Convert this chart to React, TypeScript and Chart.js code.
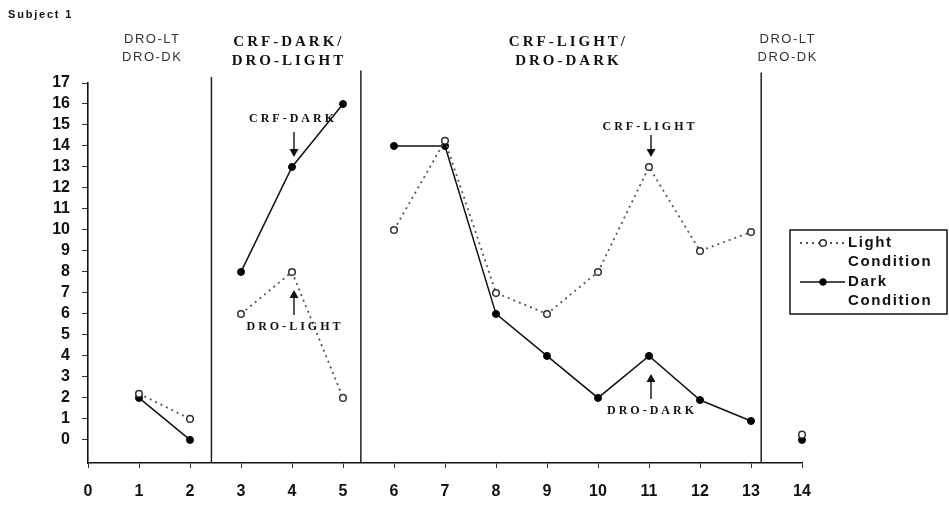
import React, { useEffect, useRef } from 'react';
import { Chart, registerables } from 'chart.js';

Chart.register(...registerables);

// ---------- data ----------
const sessions = [1, 2, 3, 4, 5, 6, 7, 8, 9, 10, 11, 12, 13, 14];
const phaseOf = [1, 1, 2, 2, 2, 3, 3, 3, 3, 3, 3, 3, 3, 4];
const lightValues = [2.2, 1, 6, 8, 2, 10, 14.25, 7, 6, 8, 13, 9, 9.9, 0.25];
const darkValues = [2, 0, 8, 13, 16, 14, 14, 6, 4, 2, 4, 1.9, 0.9, 0];
const seriesNames = ['Light Condition', 'Dark Condition'];
const xTickValues = [0, 1, 2, 3, 4, 5, 6, 7, 8, 9, 10, 11, 12, 13, 14];
const yTickValues = [0, 1, 2, 3, 4, 5, 6, 7, 8, 9, 10, 11, 12, 13, 14, 15, 16, 17];
const phaseBoundaries = [2.42, 5.35, 13.2];
const phaseBoundaryTops = [17.28, 17.6, 17.5];
const phaseTitleLines = [
  ['DRO-LT', 'DRO-DK'],
  ['CRF-DARK/', 'DRO-LIGHT'],
  ['CRF-LIGHT/', 'DRO-DARK'],
  ['DRO-LT', 'DRO-DK'],
];
const phaseTitleCenters = [1.26, 3.94, 9.42, 13.72];
const phaseTitleBold = [false, true, true, false];
const noteLabels = ['CRF-DARK', 'DRO-LIGHT', 'CRF-LIGHT', 'DRO-DARK'];
const noteSessions = [4, 4, 11, 11];
const noteValues = [13, 8, 13, 4];
const noteDirections = ['down', 'up', 'down', 'up'];
const subjectLabel = 'Subject 1';

function buildSeries(values: number[]) {
  const out: { x: number; y: number | null }[] = [];
  for (let i = 0; i < sessions.length; i++) {
    if (i > 0 && phaseOf[i] !== phaseOf[i - 1]) {
      out.push({ x: phaseBoundaries[phaseOf[i - 1] - 1], y: null });
    }
    out.push({ x: sessions[i], y: values[i] });
  }
  return out;
}

const SERIF = '"Liberation Serif", "Times New Roman", serif';
const SANS = '"Liberation Sans", Arial, sans-serif';

const decorPlugin = {
  id: 'decor',
  beforeDatasetsDraw(chart: any) {
    const { ctx, scales } = chart;
    const xs = scales.x;
    const ys = scales.y;
    ctx.save();
    ctx.strokeStyle = '#222';
    ctx.lineWidth = 1.5;
    phaseBoundaries.forEach((b, i) => {
      const px = xs.getPixelForValue(b);
      ctx.beginPath();
      ctx.moveTo(px, ys.getPixelForValue(phaseBoundaryTops[i]));
      ctx.lineTo(px, chart.chartArea.bottom);
      ctx.stroke();
    });
    ctx.restore();
  },
  afterDraw(chart: any) {
    const { ctx, scales } = chart;
    const xs = scales.x;
    const ys = scales.y;
    ctx.save();
    ctx.textAlign = 'center';
    ctx.textBaseline = 'middle';

    // subject label
    ctx.textAlign = 'left';
    ctx.fillStyle = '#111';
    ctx.font = `bold 11px ${SANS}`;
    (ctx as any).letterSpacing = '1.8px';
    ctx.fillText(subjectLabel, 8, 15);
    ctx.textAlign = 'center';

    // phase titles
    phaseTitleLines.forEach((lines, i) => {
      const cx = xs.getPixelForValue(phaseTitleCenters[i]);
      if (phaseTitleBold[i]) {
        ctx.font = `bold 15px ${SERIF}`;
        (ctx as any).letterSpacing = '3px';
        ctx.fillStyle = '#111';
        ctx.fillText(lines[0], cx, 42);
        ctx.fillText(lines[1], cx, 61);
      } else {
        ctx.font = `13px ${SANS}`;
        (ctx as any).letterSpacing = '1.5px';
        ctx.fillStyle = '#333';
        ctx.fillText(lines[0], cx, 39);
        ctx.fillText(lines[1], cx, 57);
      }
    });

    // annotations with arrows
    ctx.font = `bold 12px ${SERIF}`;
    (ctx as any).letterSpacing = '3px';
    noteLabels.forEach((label, i) => {
      const px = xs.getPixelForValue(noteSessions[i]) + 2;
      const py = ys.getPixelForValue(noteValues[i]);
      ctx.fillStyle = '#111';
      ctx.strokeStyle = '#111';
      ctx.lineWidth = 1.4;
      if (noteDirections[i] === 'down') {
        const textY = i === 0 ? py - 48 : py - 40;
        const tail = i === 0 ? py - 35 : py - 32;
        const tip = py - 10;
        ctx.fillText(label, px - 1, textY);
        ctx.beginPath();
        ctx.moveTo(px, tail);
        ctx.lineTo(px, tip - 6);
        ctx.stroke();
        ctx.beginPath();
        ctx.moveTo(px - 4.5, tip - 8);
        ctx.lineTo(px + 4.5, tip - 8);
        ctx.lineTo(px, tip);
        ctx.closePath();
        ctx.fill();
      } else {
        const tip = py + 18;
        const tail = py + 43;
        const textY = py + 55;
        ctx.fillText(label, px + 1, textY);
        ctx.beginPath();
        ctx.moveTo(px, tail);
        ctx.lineTo(px, tip + 6);
        ctx.stroke();
        ctx.beginPath();
        ctx.moveTo(px - 4.5, tip + 8);
        ctx.lineTo(px + 4.5, tip + 8);
        ctx.lineTo(px, tip);
        ctx.closePath();
        ctx.fill();
      }
    });

    // legend
    (ctx as any).letterSpacing = '0px';
    const lx = 790, ly = 230, lw = 157, lh = 84;
    ctx.strokeStyle = '#111';
    ctx.lineWidth = 1.5;
    ctx.strokeRect(lx, ly, lw, lh);
    const ds = chart.data.datasets;
    const rows = [243, 282];
    rows.forEach((ry, i) => {
      const d = ds[i];
      ctx.save();
      ctx.strokeStyle = d.borderColor;
      ctx.lineWidth = d.borderWidth;
      ctx.setLineDash(d.borderDash || []);
      ctx.beginPath();
      ctx.moveTo(800, ry);
      ctx.lineTo(845, ry);
      ctx.stroke();
      ctx.setLineDash([]);
      ctx.beginPath();
      ctx.arc(823, ry, 3.3, 0, Math.PI * 2);
      ctx.fillStyle = d.pointBackgroundColor;
      ctx.fill();
      ctx.strokeStyle = d.pointBorderColor;
      ctx.lineWidth = d.pointBorderWidth;
      ctx.stroke();
      ctx.restore();
      const parts = seriesNames[i].split(' ');
      ctx.font = `bold 15px ${SANS}`;
      (ctx as any).letterSpacing = '1.6px';
      ctx.fillStyle = '#111';
      ctx.textAlign = 'left';
      ctx.fillText(parts[0], 848, ry);
      ctx.fillText(parts[1], 848, ry + 19);
    });
    ctx.restore();
  },
};

export default function App() {
  const ref = useRef<HTMLCanvasElement | null>(null);
  useEffect(() => {
    document.body.style.margin = '0';
    const canvas = ref.current;
    if (!canvas) return;
    const chart = new Chart(canvas, {
      type: 'line',
      data: {
        datasets: [
          {
            label: seriesNames[0],
            data: buildSeries(lightValues) as any,
            borderColor: '#555',
            borderWidth: 1.8,
            borderDash: [2, 4],
            pointBackgroundColor: '#fff',
            pointBorderColor: '#333',
            pointBorderWidth: 1.5,
            pointRadius: 3.3,
            spanGaps: false,
            clip: false as any,
          },
          {
            label: seriesNames[1],
            data: buildSeries(darkValues) as any,
            borderColor: '#111',
            borderWidth: 1.5,
            pointBackgroundColor: '#000',
            pointBorderColor: '#000',
            pointBorderWidth: 1,
            pointRadius: 3.5,
            spanGaps: false,
            clip: false as any,
          },
        ],
      },
      options: {
        responsive: false,
        animation: false,
        layout: { padding: { left: 0, top: 83, right: 147, bottom: 0 } },
        plugins: { legend: { display: false }, tooltip: { enabled: false } },
        scales: {
          x: {
            type: 'linear',
            min: 0,
            max: 14,
            afterBuildTicks: (s: any) => {
              s.ticks = xTickValues.map((v) => ({ value: v }));
            },
            afterFit: (s: any) => {
              s.height = 44;
            },
            grid: { drawOnChartArea: false, drawTicks: true, tickLength: 5, color: '#333', lineWidth: 1 },
            border: { display: true, color: '#111', width: 1.6 },
            ticks: {
              color: '#111',
              padding: 14,
              maxRotation: 0,
              autoSkip: false,
              font: { family: SANS, size: 16, weight: 'bold' },
            },
          },
          y: {
            type: 'linear',
            min: -1.1,
            max: 17,
            afterBuildTicks: (s: any) => {
              s.ticks = yTickValues.map((v) => ({ value: v }));
            },
            afterFit: (s: any) => {
              s.width = 88;
            },
            grid: { drawOnChartArea: false, drawTicks: true, tickLength: 6, color: '#333', lineWidth: 1 },
            border: { display: true, color: '#111', width: 1.6 },
            ticks: {
              color: '#111',
              padding: 12,
              autoSkip: false,
              font: { family: SANS, size: 16, weight: 'bold' },
            },
          },
        },
      },
      plugins: [decorPlugin],
    });
    return () => chart.destroy();
  }, []);
  return (
    <div style={{ width: 949, height: 507 }}>
      <canvas ref={ref} width={949} height={507} style={{ display: 'block' }} />
    </div>
  );
}
